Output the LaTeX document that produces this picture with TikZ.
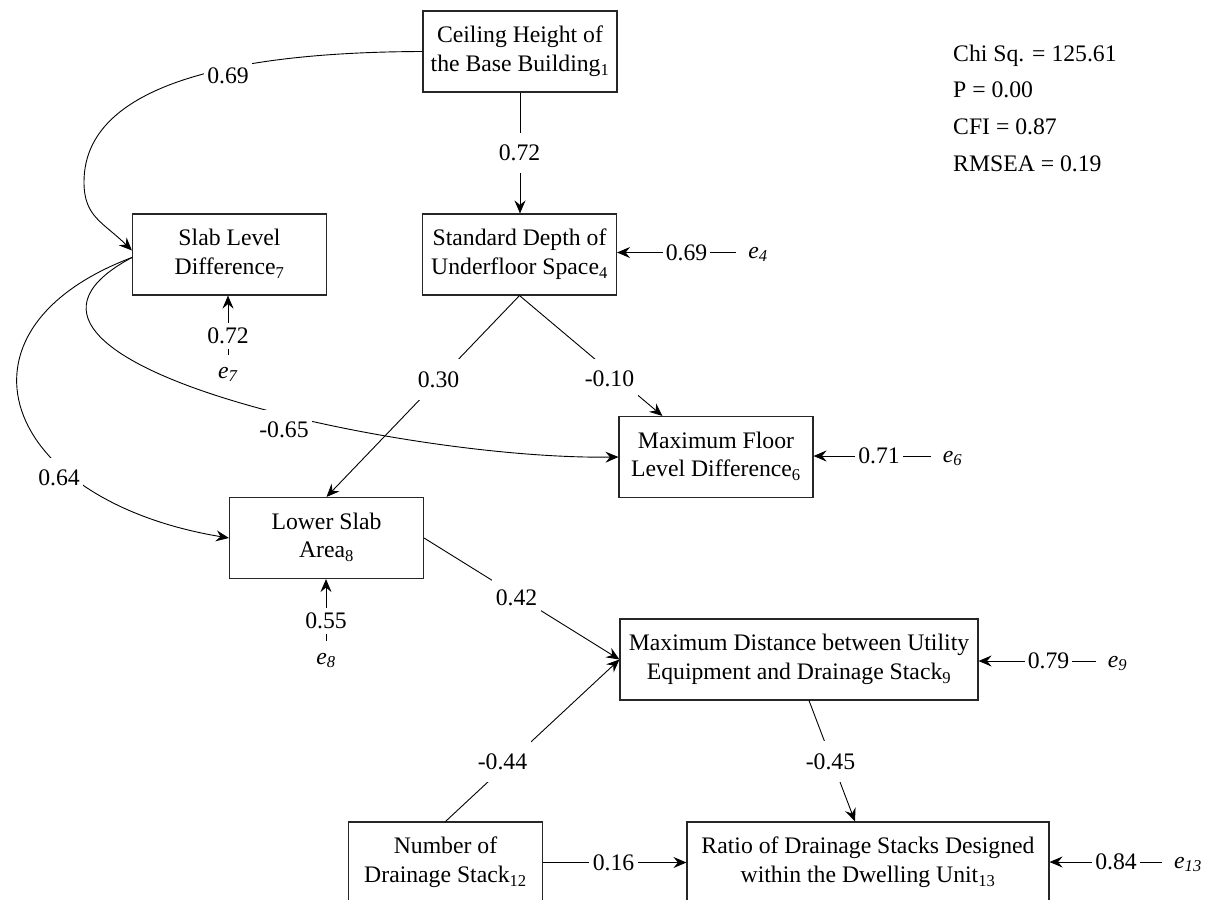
\documentclass[tikz,border=0pt]{standalone}
\usepackage{fontspec}
\setmainfont{Liberation Serif}
\usetikzlibrary{arrows.meta,calc}
\begin{document}
\begin{tikzpicture}[x=1pt,y=-1pt,
  every node/.style={font=\fontsize{23.7}{28.5}\selectfont},
  var/.style={draw=black!85, line width=1.1pt, rectangle, minimum width=194pt, minimum height=81pt, inner sep=0pt, align=center},
  conn/.style={line width=0.9pt, -{Stealth[length=13pt,width=11pt,inset=4.5pt]}},
  plain/.style={line width=0.9pt},
  plab/.style={fill=white, inner xsep=3.5pt, inner ysep=12pt},
  elab/.style={inner xsep=3pt, inner ysep=5pt},
  enode/.style={inner sep=12pt, anchor=base},
  stat/.style={anchor=base west, inner sep=0pt}]
\useasboundingbox (0,0) rectangle (1209,899);
\clip (0,0) rectangle (1209,899);

% variables
\node[var] (c1) at (520,51.5) {\strut Ceiling Height of\\\strut the Base Building\textsubscript{1}};
\node[var] (c7) at (229.5,254.5) {\strut Slab Level\\\strut Difference\textsubscript{7}};
\node[var] (c4) at (519.5,254.5) {\strut Standard Depth of\\\strut Underfloor Space\textsubscript{4}};
\node[var] (c6) at (716,457) {\strut Maximum Floor\\\strut Level Difference\textsubscript{6}};
\node[var] (c8) at (326.5,538) {\strut Lower Slab\\\strut Area\textsubscript{8}};
\node[var, minimum width=358pt] (c9) at (799,659.5) {\strut Maximum Distance between Utility\\\strut Equipment and Drainage Stack\textsubscript{9}};
\node[var] (c12) at (445.5,862.5) {\strut Number of\\\strut Drainage Stack\textsubscript{12}};
\node[var, minimum width=362pt] (c13) at (868,862.5) {\strut Ratio of Drainage Stacks Designed\\\strut within the Dwelling Unit\textsubscript{13}};

% fit statistics
\node[stat] (s1) at (953,61) {Chi Sq. = 125.61};
\node[stat] (s2) at (953,97) {P = 0.00};
\node[stat] (s3) at (953,134) {CFI = 0.87};
\node[stat] (s4) at (953,171) {RMSEA = 0.19};

% error terms
\node[elab] (l4) at (686.5,252.5) {0.69};
\node[enode] (e4) at (758,258) {\textit{e}\textsubscript{\textit{4}}};
\draw[conn] (l4.west) -- (l4.west -| c4.east);
\draw[plain] (l4.east) -- (l4.east -| e4.west);

\node[elab] (l6) at (879,456) {0.71};
\node[enode] (e6) at (952.5,462) {\textit{e}\textsubscript{\textit{6}}};
\draw[conn] (l6.west) -- (l6.west -| c6.east);
\draw[plain] (l6.east) -- (l6.east -| e6.west);

\node[elab] (l9) at (1048.5,661) {0.79};
\node[enode] (e9) at (1117.5,667) {\textit{e}\textsubscript{\textit{9}}};
\draw[conn] (l9.west) -- (l9.west -| c9.east);
\draw[plain] (l9.east) -- (l9.east -| e9.west);

\node[elab] (l13) at (1116,862) {0.84};
\node[enode] (e13) at (1188,868) {\textit{e}\textsubscript{\textit{13}}};
\draw[conn] (l13.west) -- (l13.west -| c13.east);
\draw[plain] (l13.east) -- (l13.east -| e13.west);

\node[elab] (l7) at (228,336) {0.72};
\node[enode] (e7) at (228,378) {\textit{e}\textsubscript{\textit{7}}};
\draw[conn] (l7.north) -- (l7.north |- c7.south);
\draw[plain] (l7.south) -- (l7.south |- e7.north);

\node[elab] (l8) at (326,621) {0.55};
\node[enode] (e8) at (326,664) {\textit{e}\textsubscript{\textit{8}}};
\draw[conn] (l8.north) -- (l8.north |- c8.south);
\draw[plain] (l8.south) -- (l8.south |- e8.north);

% straight paths
\draw[conn] (c1.south) -- (c1.south |- c4.north);
\draw[conn] (c4.south) -- (c8.north);
\draw[conn] (c4.south) -- ($(c6.north west)+(44,0)$);
\draw[conn] (c8.east) -- (c9.west);
\draw[conn] (c12.north) -- (c9.west);
\draw[conn] ($(c9.south)+(10,0)$) -- ($(c13.north)+(-13,0)$);
\draw[conn] (c12.east) -- (c13.west);

% curved paths
\draw[conn] (c1.west) .. controls (273,52) and (84,72) .. (84,182)
  .. controls (84,217) and (103,222) .. ($(c7.west)+(0,-4)$);
\draw[conn] ($(c7.west)+(0,3)$) .. controls (-60,360) and (400,460) .. (c6.west);
\draw[conn] ($(c7.west)+(0,3)$) .. controls (-60,330) and (0,500) .. (c8.west);

% path labels
\node[plab] (p1) at (519.5,153) {0.72};
\node[plab] (p2) at (228,75.5) {0.69};
\node[plab] (p3) at (438.5,379.5) {0.30};
\node[plab] (p4) at (609.5,379) {-0.10};
\node[plab] (p5) at (284,430) {-0.65};
\node[plab] (p6) at (59,478) {0.64};
\node[plab] (p7) at (516.5,598) {0.42};
\node[plab] (p8) at (502.5,761.5) {-0.44};
\node[plab] (p9) at (830.5,761.5) {-0.45};
\node[plab] (p10) at (613.5,863) {0.16};
\end{tikzpicture}
\end{document}
